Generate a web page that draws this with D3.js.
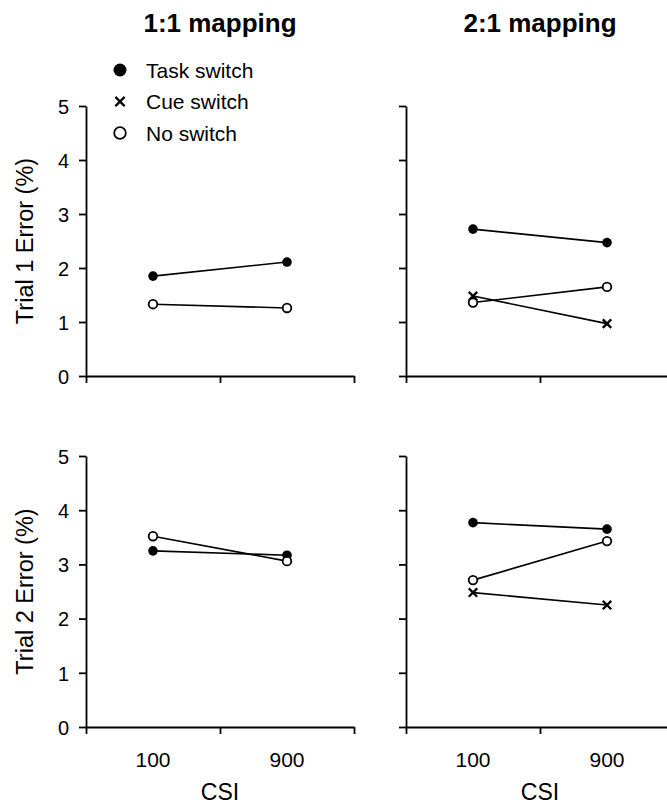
<!DOCTYPE html>
<html>
<head>
<meta charset="utf-8">
<script src="https://cdn.jsdelivr.net/npm/d3@7"></script>
<style>
  body { margin: 0; background: #fff; }
  text { font-family: "Liberation Sans", Arial, sans-serif; fill: #000; }
</style>
</head>
<body>
<svg class="chart"></svg>
<script>
var width = 667,
    height = 808;

// data
var csi = ["100", "900"];
var seriesNames = ["Task switch", "Cue switch", "No switch"];
var mappings = ["1:1 mapping", "2:1 mapping"];
var yTicks = [0, 1, 2, 3, 4, 5];

var trial1_map11_task = [1.85, 2.11];
var trial1_map11_none = [1.33, 1.26];
var trial1_map21_task = [2.72, 2.47];
var trial1_map21_cue  = [1.48, 0.97];
var trial1_map21_none = [1.36, 1.65];

var trial2_map11_task = [3.25, 3.17];
var trial2_map11_none = [3.52, 3.06];
var trial2_map21_task = [3.77, 3.65];
var trial2_map21_cue  = [2.48, 2.25];
var trial2_map21_none = [2.71, 3.43];

var panels = [
  { row: 0, col: 0, series: [["task", trial1_map11_task], ["none", trial1_map11_none]] },
  { row: 0, col: 1, series: [["task", trial1_map21_task], ["cue", trial1_map21_cue], ["none", trial1_map21_none]] },
  { row: 1, col: 0, series: [["task", trial2_map11_task], ["none", trial2_map11_none]] },
  { row: 1, col: 1, series: [["task", trial2_map21_task], ["cue", trial2_map21_cue], ["none", trial2_map21_none]] }
];
var rowLabels = ["Trial 1 Error (%)", "Trial 2 Error (%)"];

var colX = [[86, 354], [406, 674]];
var rowY = [[376, 106], [727, 456]];

var chart = d3.select(".chart")
    .attr("width", width)
    .attr("height", height);

// scale k: 1 for plot markers, bigger for legend
function drawMarker(g, kind, cx, cy, k) {
  if (kind == "task") {
    g.append("circle").attr("cx", cx).attr("cy", cy).attr("r", 4.8 * k).attr("fill", "#000");
  } else if (kind == "none") {
    g.append("circle").attr("cx", cx).attr("cy", cy).attr("r", 4.3 * k)
        .attr("fill", "#fff").attr("stroke", "#000").attr("stroke-width", 1.8);
  } else {
    var s = 4.2 * k;
    g.append("path")
        .attr("d", "M" + (cx - s) + "," + (cy - s) + "L" + (cx + s) + "," + (cy + s) +
                   "M" + (cx - s) + "," + (cy + s) + "L" + (cx + s) + "," + (cy - s))
        .attr("stroke", "#000").attr("stroke-width", 2.3);
  }
}

panels.forEach(function(p) {
  var xr = colX[p.col], yr = rowY[p.row];
  var x = d3.scalePoint().domain(csi).range(xr).padding(0.5);
  var xEdge = d3.scaleLinear().domain([0, csi.length]).range(xr);
  var y = d3.scaleLinear().domain([0, 5]).range(yr);

  var g = chart.append("g");

  // axes
  var yAxis = g.append("g")
      .attr("transform", "translate(" + xr[0] + ",0)")
      .call(d3.axisLeft(y).tickValues(yTicks).tickSize(7).tickSizeOuter(0).tickPadding(10)
        .tickFormat(p.col == 0 ? d3.format("d") : ""));
  var xAxis = g.append("g")
      .attr("transform", "translate(0," + yr[0] + ")")
      .call(d3.axisBottom(xEdge).tickValues(d3.range(csi.length + 1)).tickSize(7).tickSizeOuter(0)
        .tickFormat(""));
  g.selectAll(".domain, .tick line").attr("stroke", "#000").attr("stroke-width", 1.8);
  yAxis.selectAll("text").attr("font-size", 20).attr("dy", "0.36em")
      .style("font-family", "Liberation Sans, Arial, sans-serif");

  // lines + markers
  var line = d3.line()
      .x(function(d, i) { return x(csi[i]); })
      .y(function(d) { return y(d); });

  p.series.forEach(function(s) {
    g.append("path")
        .attr("d", line(s[1]))
        .attr("fill", "none")
        .attr("stroke", "#000")
        .attr("stroke-width", 1.6);
  });
  p.series.forEach(function(s) {
    s[1].forEach(function(v, i) { drawMarker(g, s[0], x(csi[i]), y(v), 1); });
  });

  if (p.row == 0) {
    g.append("text")
        .attr("x", (xr[0] + xr[1]) / 2)
        .attr("y", 32)
        .attr("text-anchor", "middle")
        .attr("font-size", 26)
        .attr("font-weight", "bold")
        .text(mappings[p.col]);
  }
  if (p.col == 0) {
    g.append("text")
        .attr("transform", "translate(33," + (yr[0] + yr[1]) / 2 + ") rotate(-90)")
        .attr("text-anchor", "middle")
        .attr("font-size", 23.5)
        .text(rowLabels[p.row]);
  }
  if (p.row == 1) {
    csi.forEach(function(c) {
      g.append("text")
          .attr("x", x(c))
          .attr("y", yr[0] + 40)
          .attr("text-anchor", "middle")
          .attr("font-size", 21)
          .text(c);
    });
    g.append("text")
        .attr("x", (xr[0] + xr[1]) / 2)
        .attr("y", yr[0] + 73)
        .attr("text-anchor", "middle")
        .attr("font-size", 23)
        .text("CSI");
  }
});

// legend
var legendKinds = ["task", "cue", "none"];
var legend = chart.append("g");
seriesNames.forEach(function(name, i) {
  var ly = 70 + i * 31.5;
  drawMarker(legend, legendKinds[i], 120, ly, legendKinds[i] == "cue" ? 1.1 : 1.35);
  legend.append("text")
      .attr("x", 146)
      .attr("y", ly + 7.7)
      .attr("font-size", 21)
      .text(name);
});
</script>
</body>
</html>
